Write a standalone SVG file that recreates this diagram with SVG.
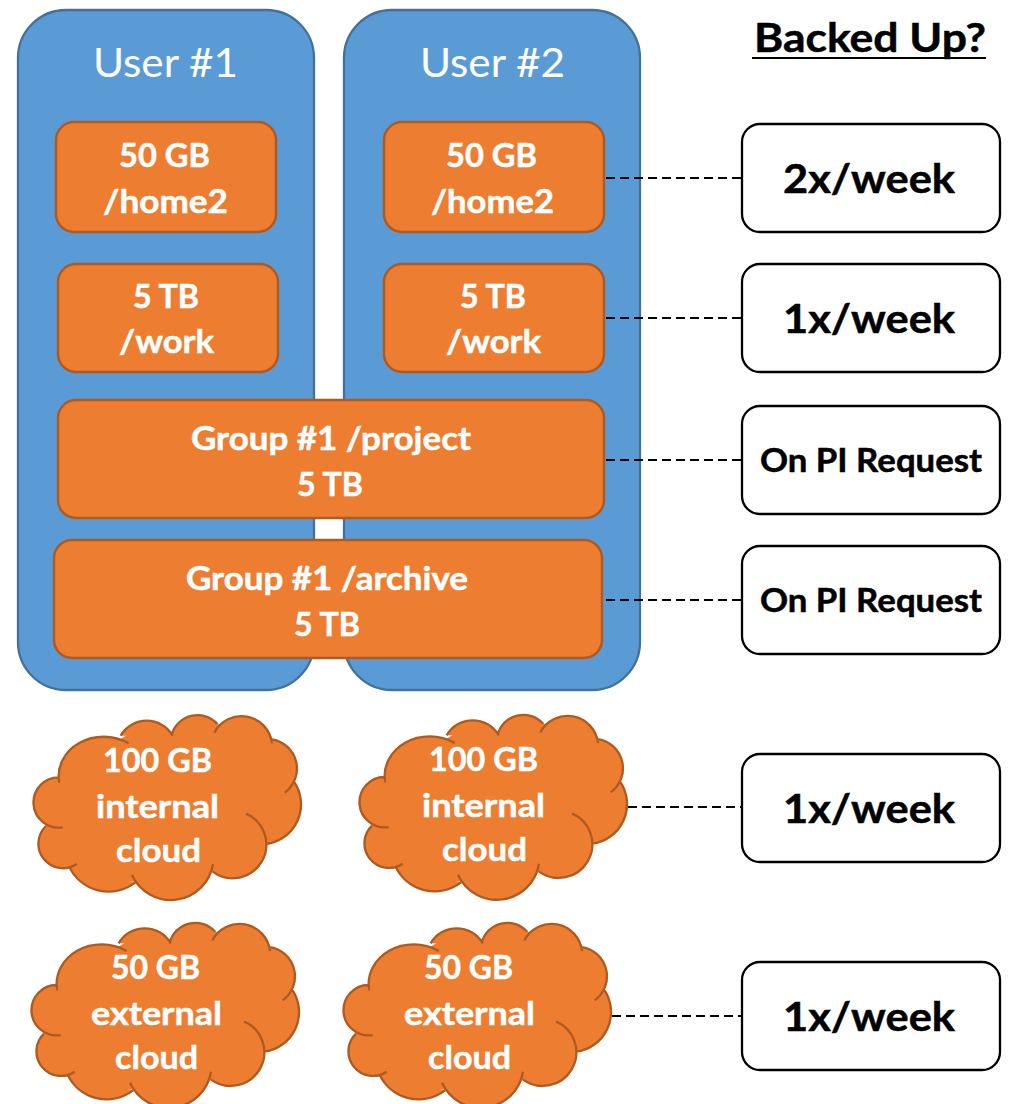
<svg xmlns="http://www.w3.org/2000/svg" xmlns:xlink="http://www.w3.org/1999/xlink" width="1010" height="1104" viewBox="0 0 1010 1104">
<style>
text{font-family:"Lato","Liberation Sans",sans-serif;font-weight:700;font-size:33px;fill:#fff;stroke:#fff;stroke-width:.5}
.user{fill:#5b9bd5;stroke:#41719c;stroke-width:2.3}
.store{fill:#ed7d31;stroke:#ae5a21;stroke-width:2.5}
text.title{font-weight:400;font-size:40px;stroke:none}
.freq{fill:#fff;stroke:#000;stroke-width:2.3}
text.big{fill:#000;stroke:#000;font-size:41px}
text.small{fill:#000;stroke:#000;font-size:33px}
.dash{stroke:#000;stroke-width:2;stroke-dasharray:9 5;fill:none}
.cf{fill:#ed7d31;stroke:none}
.cs{fill:none;stroke:#ae5a21;stroke-width:7;stroke-linecap:butt}
</style>
<defs>
<path id="bumps" d="M118 248A135 118 0 0 1 326 130M302 107A90 90 0 0 1 458 107M455 105A80 80 0 0 1 592 72M583 98A92 92 0 0 1 756 130M756 118A89 89 0 0 1 794 278M822 245A120 120 0 0 1 738 432M678 341A101 101 0 1 1 578 515M579 492A128 128 0 0 1 336 525M345 548A130 130 0 0 1 148 500M170 492A73.5 73.5 0 0 1 78 378M128 382A75.5 75.5 0 1 1 118 232"/>
<g id="cloudShape" transform="scale(.33333)">
<path class="cf" d="M118 240L200 150L300 118L330 100L380 90L460 95L525 75L592 72L665 80L756 125L810 190L822 245L800 340L738 432L730 450L650 510L578 515L450 560L345 545L250 545L148 500L110 470L78 378L80 300Z"/>
<use xlink:href="#bumps" href="#bumps" class="cf"/>
<use xlink:href="#bumps" href="#bumps" class="cs"/>
</g>
</defs>
<g id="user1"><rect class="user" x="18" y="10" width="296" height="680" rx="48"/><text class="title" x="93" y="77" textLength="145" lengthAdjust="spacingAndGlyphs">User #1</text></g>
<g id="user2"><rect class="user" x="344" y="10" width="296" height="680" rx="48"/><text class="title" x="420" y="77" textLength="145" lengthAdjust="spacingAndGlyphs">User #2</text></g>
<g id="connectors">
<path class="dash" d="M606 178H742M606 318H742M606 460H742M606 600H742M628 807H742M612 1016H742"/>
</g>
<g id="home-1"><rect class="store" x="56" y="122" width="220" height="110" rx="18"/><text x="119" y="167" textLength="91" lengthAdjust="spacingAndGlyphs">50 GB</text><text x="103" y="213" textLength="125" lengthAdjust="spacingAndGlyphs">/home2</text></g>
<g id="home-2"><rect class="store" x="384" y="122" width="220" height="110" rx="18"/><text x="446" y="167" textLength="91" lengthAdjust="spacingAndGlyphs">50 GB</text><text x="431" y="213" textLength="123" lengthAdjust="spacingAndGlyphs">/home2</text></g>
<g id="work-1"><rect class="store" x="58" y="264" width="220" height="108" rx="18"/><text x="133" y="308" textLength="66" lengthAdjust="spacingAndGlyphs">5 TB</text><text x="119" y="353" textLength="95" lengthAdjust="spacingAndGlyphs">/work</text></g>
<g id="work-2"><rect class="store" x="384" y="264" width="220" height="108" rx="18"/><text x="460" y="308" textLength="66" lengthAdjust="spacingAndGlyphs">5 TB</text><text x="446" y="353" textLength="95" lengthAdjust="spacingAndGlyphs">/work</text></g>
<g id="project"><rect class="store" x="58" y="400" width="546" height="118" rx="18"/><text x="191" y="450" textLength="280" lengthAdjust="spacingAndGlyphs">Group #1 /project</text><text x="297" y="496" textLength="66" lengthAdjust="spacingAndGlyphs">5 TB</text></g>
<g id="archive"><rect class="store" x="54" y="540" width="548" height="118" rx="18"/><text x="186" y="590" textLength="282" lengthAdjust="spacingAndGlyphs">Group #1 /archive</text><text x="294" y="636" textLength="66" lengthAdjust="spacingAndGlyphs">5 TB</text></g>
<g id="internal-1"><use xlink:href="#cloudShape" href="#cloudShape" transform="translate(20,700)"/><text x="103" y="772" textLength="109" lengthAdjust="spacingAndGlyphs">100 GB</text><text x="96" y="818" textLength="123" lengthAdjust="spacingAndGlyphs">internal</text><text x="116" y="862" textLength="85" lengthAdjust="spacingAndGlyphs">cloud</text></g>
<g id="internal-2"><use xlink:href="#cloudShape" href="#cloudShape" transform="translate(346,699.7)"/><text x="429" y="771" textLength="109" lengthAdjust="spacingAndGlyphs">100 GB</text><text x="422" y="817" textLength="123" lengthAdjust="spacingAndGlyphs">internal</text><text x="442" y="861" textLength="85" lengthAdjust="spacingAndGlyphs">cloud</text></g>
<g id="external-1"><use xlink:href="#cloudShape" href="#cloudShape" transform="translate(18,907.7)"/><text x="111" y="979" textLength="89" lengthAdjust="spacingAndGlyphs">50 GB</text><text x="91" y="1025" textLength="131" lengthAdjust="spacingAndGlyphs">external</text><text x="115" y="1069" textLength="83" lengthAdjust="spacingAndGlyphs">cloud</text></g>
<g id="external-2"><use xlink:href="#cloudShape" href="#cloudShape" transform="translate(330,907.7)"/><text x="424" y="979" textLength="89" lengthAdjust="spacingAndGlyphs">50 GB</text><text x="404" y="1025" textLength="131" lengthAdjust="spacingAndGlyphs">external</text><text x="428" y="1069" textLength="83" lengthAdjust="spacingAndGlyphs">cloud</text></g>
<g id="backed-up"><text class="big" x="754" y="52" textLength="232" lengthAdjust="spacingAndGlyphs">Backed Up?</text><rect x="752" y="57" width="234" height="2" fill="#000"/></g>
<g id="freq-1"><rect class="freq" x="742" y="124" width="258" height="108" rx="18"/><text class="big" x="783" y="193" textLength="172" lengthAdjust="spacingAndGlyphs">2x/week</text></g>
<g id="freq-2"><rect class="freq" x="742" y="264" width="258" height="108" rx="18"/><text class="big" x="783" y="333" textLength="172" lengthAdjust="spacingAndGlyphs">1x/week</text></g>
<g id="freq-3"><rect class="freq" x="742" y="406" width="258" height="108" rx="18"/><text class="small" x="760" y="472" textLength="222" lengthAdjust="spacingAndGlyphs">On PI Request</text></g>
<g id="freq-4"><rect class="freq" x="742" y="546" width="258" height="108" rx="18"/><text class="small" x="760" y="612" textLength="222" lengthAdjust="spacingAndGlyphs">On PI Request</text></g>
<g id="freq-5"><rect class="freq" x="742" y="754" width="258" height="108" rx="18"/><text class="big" x="783" y="823" textLength="172" lengthAdjust="spacingAndGlyphs">1x/week</text></g>
<g id="freq-6"><rect class="freq" x="742" y="962" width="258" height="108" rx="18"/><text class="big" x="783" y="1031" textLength="172" lengthAdjust="spacingAndGlyphs">1x/week</text></g>
</svg>
